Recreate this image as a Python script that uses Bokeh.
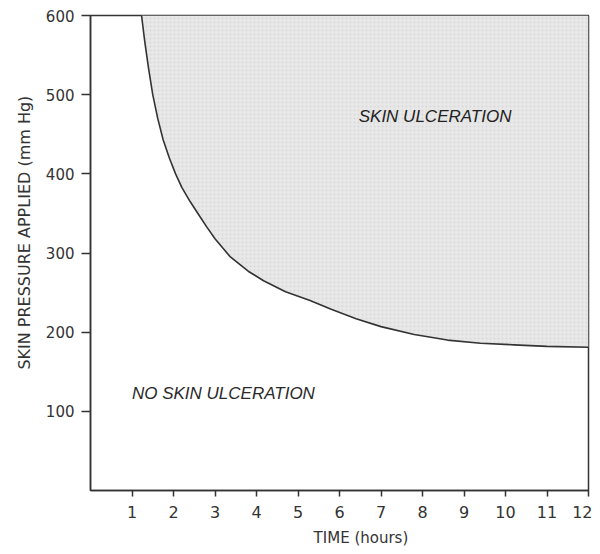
from bokeh.plotting import figure
from bokeh.models import Range1d, FixedTicker, Label
from bokeh.embed import file_html
from bokeh.resources import INLINE

# Data
time_hours = [1.23, 1.31, 1.40, 1.50, 1.62, 1.75, 1.90, 2.05, 2.20, 2.40, 2.60, 2.80, 3.00, 3.37,
              3.80, 4.17, 4.70, 5.29, 5.80, 6.40, 7.00, 7.80, 8.60, 9.40, 10.2, 11.0, 12.0]
pressure_mmhg = [600, 566, 533, 500, 470, 443, 420, 400, 383, 365, 349, 333, 318, 295,
                 277, 265, 251, 240, 229, 217, 207, 197, 190, 186, 184, 182, 181]
upper_limit = [600] * len(time_hours)
x_ticks = [1, 2, 3, 4, 5, 6, 7, 8, 9, 10, 11, 12]
y_ticks = [100, 200, 300, 400, 500, 600]

NBSP = "\u00a0"

p = figure(width=592, height=552, output_backend="svg", toolbar_location=None,
           x_range=Range1d(0, 12), y_range=Range1d(0, 600),
           min_border_left=90, min_border_right=4, min_border_top=15, min_border_bottom=62)

p.grid.visible = False
p.outline_line_color = "#333333"
p.outline_line_width = 1.5
p.background_fill_color = "white"
p.border_fill_color = "white"

# shaded ulceration region
p.varea(x=time_hours, y1=pressure_mmhg, y2=upper_limit, fill_color="#e8e8e8",
        hatch_pattern="dot", hatch_color="#d4d4d4", hatch_scale=4, hatch_alpha=0.8)
p.line(x=time_hours, y=pressure_mmhg, line_color="#333333", line_width=1.6)

for ax in (p.xaxis[0], p.yaxis[0]):
    ax.axis_line_color = "#333333"
    ax.axis_line_width = 1.5
    ax.major_tick_line_color = "#333333"
    ax.major_tick_line_width = 1.5
    ax.minor_tick_line_color = None
    ax.major_tick_in = 0
    ax.major_label_text_font = "DejaVu Sans"
    ax.major_label_text_color = "#333333"
    ax.axis_label_text_font = "DejaVu Sans"
    ax.axis_label_text_font_style = "normal"
    ax.axis_label_text_color = "#333333"

p.xaxis.axis_label_text_font_size = "15px"
p.yaxis.axis_label_text_font_size = "16px"
p.xaxis.major_label_text_font_size = "16px"
p.yaxis.major_label_text_font_size = "15px"
p.xaxis.ticker = FixedTicker(ticks=x_ticks)
p.yaxis.ticker = FixedTicker(ticks=y_ticks)
p.xaxis.major_tick_out = 6
p.yaxis.major_tick_out = 9
p.xaxis.major_label_standoff = 9
p.yaxis.major_label_standoff = 7

# axis titles, padded so they sit slightly off-centre as in the reference
p.xaxis.axis_label = NBSP * 9 + "TIME (hours)"
p.yaxis.axis_label = NBSP * 8 + "SKIN PRESSURE APPLIED (mm Hg)"
p.xaxis.axis_label_standoff = 8
p.yaxis.axis_label_standoff = 9

p.add_layout(Label(x=8.36, y=473, text="SKIN  ULCERATION", text_font="Liberation Sans",
                   text_font_size="17px", text_font_style="italic", text_color="#222222",
                   text_align="center", text_baseline="middle"))
p.add_layout(Label(x=3.26, y=122, text="NO SKIN  ULCERATION", text_font="Liberation Sans",
                   text_font_size="17px", text_font_style="italic", text_color="#2a2a2a",
                   text_align="center", text_baseline="middle"))

open("out.html", "w").write(file_html(p, INLINE))
